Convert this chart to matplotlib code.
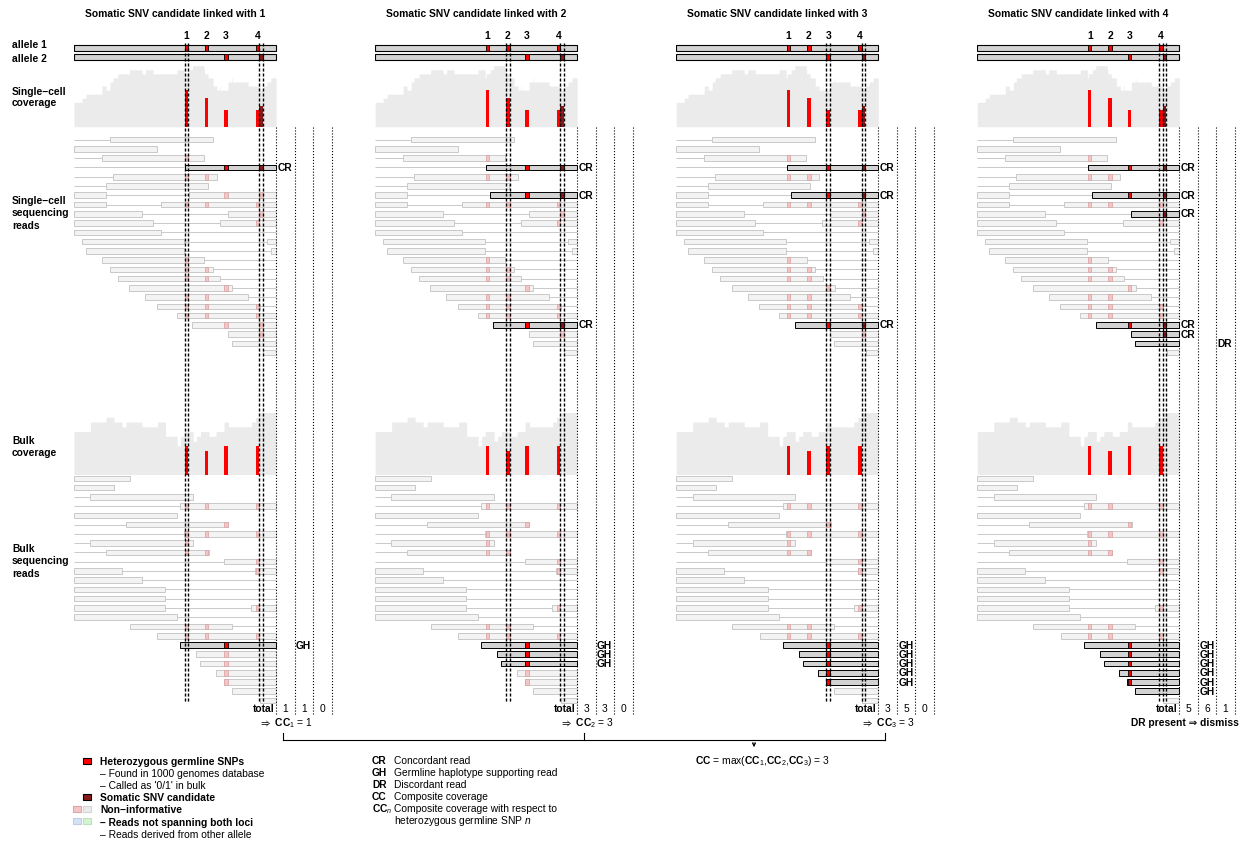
import numpy as np
import matplotlib.pyplot as plt
from matplotlib.patches import Rectangle

plt.rcParams['font.family'] = ['Liberation Sans', 'DejaVu Sans']
plt.rcParams['font.size'] = 7.4
plt.rcParams['mathtext.fontset'] = 'custom'
plt.rcParams['mathtext.rm'] = 'Liberation Sans'
plt.rcParams['mathtext.bf'] = 'Liberation Sans:bold'
plt.rcParams['mathtext.it'] = 'Liberation Sans:italic'
plt.rcParams['mathtext.fallback'] = 'stixsans'

# ---- data (positions in panel units, 0..202) ----
snp_pos = [112.4, 132.7, 152.0, 183.6]   # heterozygous germline SNPs 1-4
som_pos = 187.1                          # somatic SNV candidate
# germline SNPs carried by each haplotype (0 = allele 2 without the somatic SNV)
allele_snps = {1: [0, 1, 3], 2: [2], 0: [2]}

# read pairs: (mate1 start, mate1 end, mate2 start, mate2 end)
sc_reads = [
    (-90, -20, 36, 139), (-200, -140, -30, 83), (-80, -20, 28, 130),
    (-70, -10, 110.7, 260), (-60, -15, 39, 143), (-60, -15, 32, 134),
    (-70, 32, 115, 240), (-70, 32, 87, 230), (-40, 67.7, 153.7, 260),
    (-40, 79, 146, 260), (-20, 87, 240, 340), (8, 110, 193, 300),
    (12, 110, 197, 300), (28, 130.3, 230, 330), (35.7, 138.7, 230, 330),
    (43.7, 146.3, 240, 340), (55.3, 158.3, 240, 340), (71.3, 173.7, 240, 340),
    (83, 185.7, 240, 340), (102.7, 240, 300, 400), (118.3, 230, 300, 400),
    (154, 240, 300, 400), (158, 250, 300, 400), (189.3, 260, 300, 400),
]
sc_allele = [2, 1, 1, 2, 1, 2, 2, 1, 2, 1, 1, 1,
             1, 1, 1, 1, 2, 1, 1, 1, 2, 2, 0, 2]

bulk_reads = [
    (-200, -140, -30, 55.7), (-200, -140, -30, 40), (-80, -20, 16.3, 118.7),
    (-60, -10, 106.3, 230), (-200, -140, -30, 103), (-60, -10, 51.7, 154.3),
    (-60, -10, 110, 230), (-60, -10, 16.3, 118.7), (-60, -10, 32, 134.7),
    (-60, -10, 150, 250), (-40, 48, 181.3, 280), (-40, 67.7, 230, 330),
    (-40, 91.3, 230, 330), (-40, 91.3, 230, 330), (-40, 91.3, 177.3, 280),
    (-40, 103, 230, 330), (55.7, 158, 230, 330), (83.3, 230, 300, 400),
    (106.3, 230, 300, 400), (122.3, 230, 300, 400), (126.3, 230, 300, 400),
    (142, 230, 300, 400), (150, 230, 300, 400), (158, 230, 300, 400),
    (186, 230, 300, 400),
]
bulk_allele = [1, 1, 2, 1, 2, 2, 1, 1, 1, 1, 1, 1,
               1, 1, 1, 1, 1, 1, 2, 2, 2, 2, 2, 2, 2]

panel_titles = ['Somatic SNV candidate linked with %d' % (k + 1) for k in range(4)]
col_tags = ['CR', 'GH', 'DR']

# ---- layout ----
W, H = 1249, 842
X0, STEP, PW, COL_W = 74, 301.1, 202, 18.5
SNP_W, READ_H, ROW_H = 3.5, 5.6, 9.26
SC_BASE, SC_TOP_ROW, SC_H = 126.7, 139.7, 61
BK_BASE, BK_TOP_ROW, BK_H = 474.5, 478.3, 62

RED, DARK = '#ff0000', '#8b1a1a'
PINK, PINK_E = '#f5c4c4', '#d9a9a9'
LFILL, LEDGE = '#f3f3f3', '#c9c9c9'
HFILL = '#d3d3d3'
COV_C = '#ebebeb'

fig = plt.figure(figsize=(W / 100, H / 100), dpi=100)
ax0 = fig.add_axes([0, 0, 1, 1])
ax0.set_xlim(0, W)
ax0.set_ylim(H, 0)
ax0.axis('off')

xs = np.arange(0, PW + 0.5, 0.5)


def coverage(reads):
    cov = np.zeros_like(xs)
    for r in reads:
        for s, e in ((r[0], r[1]), (r[2], r[3])):
            cov += (xs >= s) & (xs < e)
    return cov


def snp_counts(reads, alleles, with_som):
    cnt = [0] * 4
    som = 0
    for r, al in zip(reads, alleles):
        for s, e in ((r[0], r[1]), (r[2], r[3])):
            for j in allele_snps[al]:
                if s <= snp_pos[j] <= e:
                    cnt[j] += 1
            if with_som and al == 2 and s <= som_pos <= e:
                som += 1
    return cnt, som


def draw_cov(ax, reads, alleles, base, hmax, with_som):
    cov = coverage(reads)
    sc = hmax / cov.max()
    ax.fill_between(xs, base, base - cov * sc, step='post', color=COV_C, lw=0, zorder=1)
    cnt, som = snp_counts(reads, alleles, with_som)
    ax.bar(snp_pos, [-c * sc for c in cnt], bottom=base, width=SNP_W, color=RED, zorder=2)
    if with_som:
        ax.bar([som_pos], [-som * sc], bottom=base, width=SNP_W, color=DARK, zorder=2)


def draw_reads(ax, reads, alleles, y0, k, bulk):
    counts = dict.fromkeys(col_tags, 0)
    for i, (r, al) in enumerate(zip(reads, alleles)):
        y = y0 + i * ROW_H
        mates = [(r[0], r[1]), (r[2], r[3])]
        tag = None
        lo, hi = max(r[1], 0), min(r[2], PW)
        if hi > lo:
            ax.hlines(y, lo, hi, color=LEDGE, lw=0.7, zorder=2)
        for s, e in mates:
            cs, ce = max(s, 0), min(e, PW)
            if ce <= cs:
                continue
            spans = s <= snp_pos[k] and e >= som_pos
            hit = None
            if spans and al == 2:
                hit = 'GH' if bulk else 'CR'
            elif spans and al == 0:
                hit = 'DR'
            tag = tag or hit
            ax.barh(y, ce - cs, left=cs, height=READ_H,
                    color=HFILL if hit else LFILL,
                    edgecolor='black' if hit else LEDGE, linewidth=0.7, zorder=3)
            for j in allele_snps[al]:
                if s <= snp_pos[j] <= e:
                    ax.barh(y, SNP_W, left=snp_pos[j] - SNP_W / 2, height=READ_H,
                            color=RED if hit else PINK,
                            edgecolor='black' if hit else PINK_E, linewidth=0.6, zorder=4)
            if not bulk and al == 2 and s <= som_pos <= e:
                ax.barh(y, SNP_W, left=som_pos - SNP_W / 2, height=READ_H,
                        color=DARK if hit else PINK,
                        edgecolor='black' if hit else PINK_E, linewidth=0.6, zorder=4)
        if tag:
            counts[tag] += 1
            c = col_tags.index(tag)
            ax.text(PW + c * COL_W + 1.5, y + 3.6, tag, fontweight='bold',
                    ha='left', va='baseline')
    return counts


cc_vals = []
for k in range(4):
    left = X0 + k * STEP
    ax = fig.add_axes([left / W, 0, (PW + 70) / W, 1])
    ax.set_xlim(0, PW + 70)
    ax.set_ylim(H, 0)
    ax.axis('off')

    ax0.text(left + PW / 2, 17.3, panel_titles[k], fontweight='bold', ha='center', va='baseline')
    for j, p in enumerate(snp_pos):
        ax.text(p, 39, str(j + 1), fontweight='bold', ha='center', va='baseline')

    # haplotypes
    for a, yy in ((1, 47.5), (2, 56.5)):
        ax.barh(yy, PW, left=0, height=6, color=HFILL, edgecolor='black', linewidth=0.8, zorder=3)
        for j in allele_snps[a]:
            ax.barh(yy, SNP_W, left=snp_pos[j] - SNP_W / 2, height=6, color=RED,
                    edgecolor='black', linewidth=0.6, zorder=4)
    ax.barh(56.5, SNP_W, left=som_pos - SNP_W / 2, height=6, color=DARK,
            edgecolor='black', linewidth=0.6, zorder=4)

    draw_cov(ax, sc_reads, sc_allele, SC_BASE, SC_H, True)
    draw_cov(ax, bulk_reads, bulk_allele, BK_BASE, BK_H, False)
    c1 = draw_reads(ax, sc_reads, sc_allele, SC_TOP_ROW, k, False)
    c2 = draw_reads(ax, bulk_reads, bulk_allele, BK_TOP_ROW, k, True)
    tot = [c1[t] + c2[t] for t in col_tags]

    # guide lines
    edges = sorted({round(p + d, 1) for p in (snp_pos[k], som_pos) for d in (-SNP_W / 2, SNP_W / 2)})
    ax.vlines(edges, 43, 703, colors='black', linestyles=(0, (2.2, 1.4)), lw=1.0, zorder=6)
    ax.vlines([PW + c * COL_W for c in range(4)], SC_BASE, 715, colors='black',
              linestyles=':', lw=0.8, zorder=6)

    ax.text(PW - 1.5, 712, 'total', fontweight='bold', ha='right', va='baseline')
    for c, v in enumerate(tot):
        ax.text(PW + (c + 0.5) * COL_W, 712, str(v), ha='center', va='baseline')

    if tot[2] > 0:
        ax.text(PW + 6, 726, 'DR present \u21d2 dismiss', fontweight='bold', ha='center', va='baseline')
    else:
        cc = min(tot[0], tot[1])
        cc_vals.append(cc)
        ax.text(PW + 9.5, 726, '$\\Rightarrow$ $\\mathbf{CC}_{%d}$ = %d' % (k + 1, cc),
                ha='center', va='baseline')

# bracket joining CC_n
bx = [X0 + k * STEP + PW + 7 for k in range(len(cc_vals))]
for x in bx:
    ax0.plot([x, x], [733, 740], color='black', lw=0.8)
ax0.plot([bx[0], bx[-1]], [740, 740], color='black', lw=0.8)
ax0.annotate('', xy=(754, 750), xytext=(754, 740),
             arrowprops=dict(arrowstyle='->,head_length=0.3,head_width=0.15', lw=0.8))
ax0.text(762, 764, r'$\mathbf{CC}$ = max($\mathbf{CC}_1$,$\mathbf{CC}_2$,$\mathbf{CC}_3$) = %d' % max(cc_vals),
         ha='center', va='baseline')

# row labels
row_labels = [('allele 1', 48.5), ('allele 2', 62), ('Single\u2212cell', 95), ('coverage', 106.5),
              ('Single\u2212cell', 204), ('sequencing', 216.5), ('reads', 229),
              ('Bulk', 444), ('coverage', 456.5),
              ('Bulk', 552), ('sequencing', 564.5), ('reads', 577)]
for t, yy in row_labels:
    ax0.text(12, yy, t, fontweight='bold', ha='left', va='baseline')


# legend
def square(x, yb, fc, ec):
    ax0.add_patch(Rectangle((x, yb - 7.3), 8, 6, facecolor=fc, edgecolor=ec, lw=0.8))


square(83.5, 765, RED, 'black')
square(83.5, 801.5, DARK, 'black')
square(73.5, 813.5, PINK, PINK_E)
square(83.5, 813.5, '#ececec', '#d4d4d4')
square(73.5, 825.5, '#d6e2f6', '#c2cde2')
square(83.5, 825.5, '#d4f5d4', '#bfe0bf')
legend_rows = [('Heterozygous germline SNPs', 'bold'), ('\u2013 Found in 1000 genomes database', 'normal'),
               ("\u2013 Called as '0/1' in bulk", 'normal'), ('Somatic SNV candidate', 'bold'),
               ('Non\u2212informative', 'bold'), ('\u2013 Reads not spanning both loci', 'bold'),
               ('\u2013 Reads derived from other allele', 'normal')]
for i, (t, wgt) in enumerate(legend_rows):
    ax0.text(100.5, 765 + i * 12.1, t, fontweight=wgt, ha='left', va='baseline')

abbrev = [('CR', 'Concordant read'), ('GH', 'Germline haplotype supporting read'),
          ('DR', 'Discordant read'), ('CC', 'Composite coverage'),
          (r'$\mathbf{CC}_{\mathit{n}}$', 'Composite coverage with respect to'),
          ('', r'heterozygous germline SNP $n$')]
for i, (a, t) in enumerate(abbrev):
    yy = 764 + i * 12
    ax0.text(372, yy, a, fontweight='bold', ha='left', va='baseline')
    ax0.text(394, yy, t, ha='left', va='baseline')

fig.savefig('out.png', dpi=100)
